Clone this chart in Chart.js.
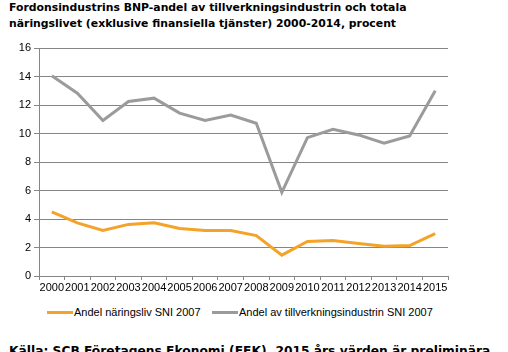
<!DOCTYPE html>
<html>
<head>
<meta charset="utf-8">
<script src="https://cdn.jsdelivr.net/npm/chart.js@4.4.0/dist/chart.umd.min.js"></script>
<style>
  html, body { margin: 0; padding: 0; background: #fff; }
  body { width: 508px; height: 352px; position: relative; overflow: hidden; }
  .rubrik { position: absolute; left: 9px; font-family: "DejaVu Sans", Verdana, sans-serif; font-weight: bold; font-size: 10.85px; color: #000; white-space: nowrap; }
  .kalla { font-size: 12.25px; top: 344px; }
  #wrap { position: absolute; left: 0; top: 0; width: 508px; height: 300px; }
  .leg { position: absolute; top: 306px; font-family: "Liberation Sans", Arial, sans-serif; font-size: 11px; color: #000; white-space: nowrap; }
  .leg i { display: inline-block; width: 26px; height: 3px; vertical-align: middle; margin-right: 1px; position: relative; top: -1px; }
</style>
</head>
<body>
<div class="rubrik" style="top:1px">Fordonsindustrins BNP-andel av tillverkningsindustrin och totala</div>
<div class="rubrik" style="top:17px">näringslivet (exklusive finansiella tjänster) 2000-2014, procent</div>
<div id="wrap"><canvas id="graf"></canvas></div>
<div class="leg" style="left:47px"><i style="background:#f5a228"></i>Andel näringsliv SNI 2007</div>
<div class="leg" style="left:212px"><i style="background:#9b9b9b"></i>Andel av tillverkningsindustrin SNI 2007</div>
<div class="rubrik kalla">Källa: SCB Företagens Ekonomi (FEK), 2015 års värden är preliminära</div>
<script>
// Årtal och andelar (procent)
const ar = ['2000','2001','2002','2003','2004','2005','2006','2007','2008','2009','2010','2011','2012','2013','2014','2015'];
const andelNaringsliv = [4.5, 3.73, 3.19, 3.62, 3.73, 3.33, 3.19, 3.19, 2.84, 1.46, 2.42, 2.49, 2.28, 2.09, 2.14, 2.98];
const andelTillverkning = [14.05, 12.83, 10.91, 12.25, 12.48, 11.43, 10.91, 11.29, 10.72, 5.87, 9.71, 10.3, 9.9, 9.32, 9.83, 13.0];
const yTicks = [0, 2, 4, 6, 8, 10, 12, 14, 16];

const ctx = document.getElementById('graf').getContext('2d');
new Chart(ctx, {
    type: 'line',
    data: {
        labels: ar,
        datasets: [
            {
                label: 'Andel näringsliv SNI 2007',
                data: andelNaringsliv,
                borderColor: '#f5a228',
                borderWidth: 3,
                pointRadius: 0,
                tension: 0
            },
            {
                label: 'Andel av tillverkningsindustrin SNI 2007',
                data: andelTillverkning,
                borderColor: '#9b9b9b',
                borderWidth: 3,
                pointRadius: 0,
                tension: 0
            }
        ]
    },
    options: {
        responsive: true,
        maintainAspectRatio: false,
        animation: false,
        layout: { padding: { top: 48, right: 60, left: 0, bottom: 0 } },
        plugins: {
            legend: { display: false },
            tooltip: { enabled: false }
        },
        scales: {
            x: {
                offset: true,
                grid: { offset: true, drawOnChartArea: false, color: '#868686', tickLength: 4 },
                border: { color: '#868686' },
                ticks: {
                    padding: 1,
                    autoSkip: false,
                    maxRotation: 0,
                    color: '#000',
                    font: { family: 'Liberation Sans, Arial, sans-serif', size: 11 }
                },
                afterFit: s => { s.height = 24; }
            },
            y: {
                min: 0,
                max: 16,
                afterBuildTicks: s => { s.ticks = yTicks.map(v => ({ value: v })); },
                grid: { color: '#868686', tickLength: 5 },
                border: { color: '#868686' },
                ticks: {
                    padding: 3,
                    color: '#000',
                    font: { family: 'Liberation Sans, Arial, sans-serif', size: 11 }
                },
                afterFit: s => { s.width = 39; }
            }
        }
    }
});
</script>
</body>
</html>
